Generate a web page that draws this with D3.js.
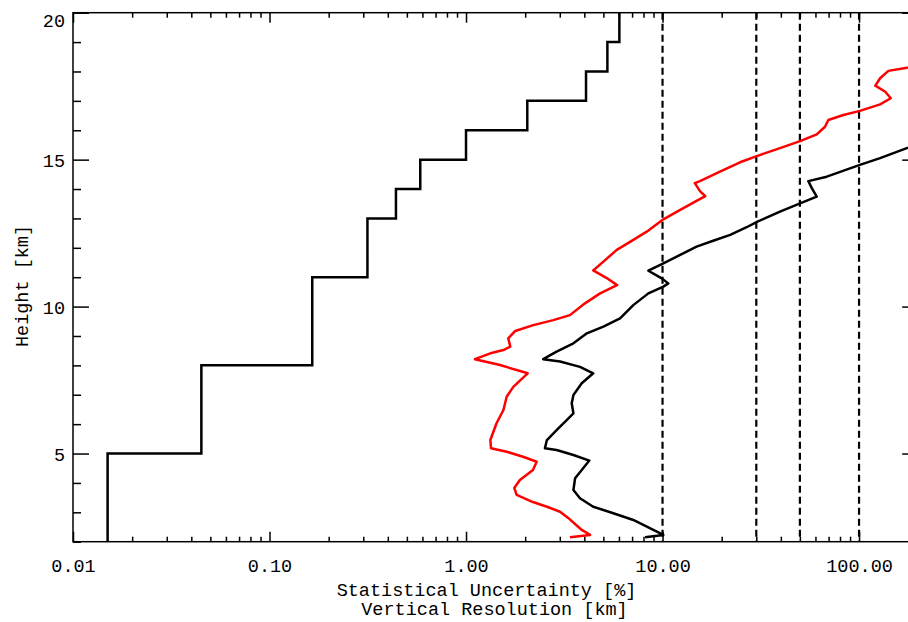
<!DOCTYPE html>
<html>
<head>
<meta charset="utf-8">
<script src="https://cdn.jsdelivr.net/npm/d3@7"></script>
<style>
  body { margin: 0; background: #fff; }
  svg { display: block; background: #fff; }
  text { font-family: "Liberation Mono", "DejaVu Sans Mono", monospace; font-size: 18.5px; fill: #000; }
</style>
</head>
<body>
<svg id="chart" width="908" height="622"></svg>
<script>
// vertical resolution (km) per layer, layers start at these heights
const layerBottoms = [2, 5, 8, 11, 13, 14, 15, 16, 17, 18, 19];
const layerTop = 20;
const resolution = [0.015, 0.045, 0.165, 0.315, 0.44, 0.585, 1.0, 2.05, 4.08, 5.24, 6.03];

// red profile (statistical uncertainty %, height km)
const redHeight = [2.15, 2.23, 2.40, 2.81, 3.02, 3.19, 3.35, 3.59, 3.83, 4.10, 4.44, 4.72, 4.89, 5.06, 5.18, 5.46,
  6.03, 6.48, 6.93, 7.27, 7.73, 8.01, 8.21, 8.41, 8.52, 8.64, 8.92, 9.17, 9.37, 9.54, 9.71, 10.11, 10.45, 10.73,
  10.97, 11.23, 11.53, 11.93, 12.27, 12.55, 12.97, 13.29, 13.60, 13.76, 13.93, 14.20, 14.27, 14.59, 14.91, 15.13,
  15.39, 15.63, 15.86, 16.12, 16.35, 16.52, 16.66, 16.88, 17.09, 17.31, 17.52, 17.77, 18.02, 18.13, 18.25];
const redValue = [3.38, 4.28, 3.88, 3.31, 3.01, 2.58, 2.19, 1.81, 1.76, 1.88, 2.19, 2.29, 1.95, 1.61, 1.34, 1.33,
  1.43, 1.55, 1.61, 1.74, 2.06, 1.49, 1.11, 1.33, 1.55, 1.68, 1.64, 1.78, 2.20, 2.78, 3.38, 4.03, 4.81, 5.87,
  5.20, 4.44, 5.00, 5.85, 7.10, 8.31, 10.1, 12.3, 14.9, 16.5, 15.5, 14.6, 15.5, 19.6, 24.8, 30.4,
  39.6, 50.1, 60.9, 67.1, 69.8, 83.2, 101, 128, 145, 136, 121, 128, 141, 175, 217];

// black profile (statistical uncertainty %, height km)
const blackHeight = [2.15, 2.23, 2.40, 2.74, 2.97, 3.19, 3.48, 3.76, 4.16, 4.44, 4.76, 4.95, 5.12, 5.18, 5.46, 5.80,
  6.20, 6.37, 6.71, 6.99, 7.39, 7.73, 7.95, 8.13, 8.21, 8.47, 8.75, 9.09, 9.32, 9.60, 10.05, 10.45, 10.68, 10.79,
  10.96, 11.22, 11.47, 11.76, 12.04, 12.24, 12.44, 12.70, 12.89, 13.23, 13.51, 13.74, 14.03, 14.27, 14.42, 14.82,
  15.05, 15.39, 15.60];
const blackValue = [8.15, 10.1, 8.98, 7.10, 5.62, 4.44, 3.80, 3.52, 3.59, 3.88, 4.24, 3.52, 2.89, 2.52, 2.58, 2.89,
  3.32, 3.52, 3.45, 3.52, 3.88, 4.44, 3.80, 3.01, 2.47, 2.89, 3.52, 4.12, 5.00, 6.08, 7.10, 8.47, 10.1, 10.7,
  9.91, 8.47, 10.1, 12.3, 14.9, 18.1, 22.1, 26.8, 30.4, 39.6, 50.1, 60.9, 57.5, 55.2, 68.5, 101,
  128, 175, 217];

const refLines = [10, 30, 50, 100];
const xTicks = [0.01, 0.1, 1, 10, 100];
const yTicks = [5, 10, 15, 20];
const xTitle = "Statistical Uncertainty [%]";
const xTitle2 = "Vertical Resolution [km]";
const yTitle = "Height [km]";

const svg = d3.select("#chart");
const mLeft = 73, mRight = 918.2, mTop = 12.7, mBottom = 541.7;

const x = d3.scaleLog().domain([0.01, 200]).range([mLeft, mRight]);
const y = d3.scaleLinear().domain([2, 20]).range([mBottom, mTop]);

const xMinor = [];
[0.01, 0.1, 1, 10, 100].forEach(d => {
  for (let k = 2; k <= 9; k++) if (d * k <= 200) xMinor.push(d * k);
});
const yMinor = d3.range(2, 21).filter(d => d % 5 !== 0);

svg.append("clipPath").attr("id", "plot")
  .append("rect").attr("x", mLeft).attr("y", mTop).attr("width", mRight - mLeft).attr("height", mBottom - mTop);

// axes
function styleAxis(g) {
  g.select(".domain").remove();
  g.selectAll("line").attr("stroke", "#000").attr("stroke-width", 1.5);
}
svg.append("g").attr("transform", `translate(0,${mBottom})`)
  .call(d3.axisBottom(x).tickValues(xTicks).tickSize(-10).tickFormat(d3.format(".2f")))
  .call(styleAxis)
  .call(g => g.selectAll("text").attr("y", 30).attr("dy", null)
    .style("font-family", "Liberation Mono").style("font-size", "18.5px").attr("fill", "#000"));
svg.append("g").attr("transform", `translate(0,${mBottom})`)
  .call(d3.axisBottom(x).tickValues(xMinor).tickSize(-5).tickFormat(""))
  .call(styleAxis);
svg.append("g").attr("transform", `translate(0,${mTop})`)
  .call(d3.axisTop(x).tickValues(xTicks).tickSize(-10).tickFormat(""))
  .call(styleAxis);
svg.append("g").attr("transform", `translate(0,${mTop})`)
  .call(d3.axisTop(x).tickValues(xMinor).tickSize(-5).tickFormat(""))
  .call(styleAxis);
svg.append("g").attr("transform", `translate(${mLeft},0)`)
  .call(d3.axisLeft(y).tickValues(yTicks).tickSize(-16).tickFormat(d3.format("d")))
  .call(styleAxis)
  .call(g => g.selectAll("text").attr("x", -8)
    .attr("dy", d => d === 20 ? "0.75em" : "0.35em")
    .style("font-family", "Liberation Mono").style("font-size", "18.5px").attr("fill", "#000"));
svg.append("g").attr("transform", `translate(${mLeft},0)`)
  .call(d3.axisLeft(y).tickValues(yMinor).tickSize(-8).tickFormat(""))
  .call(styleAxis);
svg.append("g").attr("transform", `translate(${mRight},0)`)
  .call(d3.axisRight(y).tickValues(yTicks).tickSize(-16).tickFormat(""))
  .call(styleAxis);
svg.append("g").attr("transform", `translate(${mRight},0)`)
  .call(d3.axisRight(y).tickValues(yMinor).tickSize(-8).tickFormat(""))
  .call(styleAxis);

svg.append("rect").attr("x", mLeft).attr("y", mTop).attr("width", mRight - mLeft).attr("height", mBottom - mTop)
  .attr("fill", "none").attr("stroke", "#000").attr("stroke-width", 1.5);

const plot = svg.append("g").attr("clip-path", "url(#plot)");

// dashed reference lines
plot.selectAll(".ref").data(refLines).enter().append("line")
  .attr("x1", d => x(d)).attr("x2", d => x(d))
  .attr("y1", mTop).attr("y2", mBottom)
  .attr("stroke", "#000").attr("stroke-width", 2.2).attr("stroke-dasharray", "7,4");

// step profile of vertical resolution
const steps = layerBottoms.map((h, i) => [resolution[i], h]);
steps.push([resolution[resolution.length - 1], layerTop]);
plot.append("path").datum(steps)
  .attr("d", d3.line().x(d => x(d[0])).y(d => y(d[1])).curve(d3.curveStepBefore))
  .attr("fill", "none").attr("stroke", "#000").attr("stroke-width", 2.5);

const profile = d3.line().x(d => x(d[0])).y(d => y(d[1]));
plot.append("path").datum(redValue.map((v, i) => [v, redHeight[i]]))
  .attr("d", profile).attr("fill", "none").attr("stroke", "#ff0000")
  .attr("stroke-width", 2.5).attr("stroke-linejoin", "round");
plot.append("path").datum(blackValue.map((v, i) => [v, blackHeight[i]]))
  .attr("d", profile).attr("fill", "none").attr("stroke", "#000")
  .attr("stroke-width", 2.5).attr("stroke-linejoin", "round");

// titles
svg.append("text").attr("x", 486.5).attr("y", 596).attr("text-anchor", "middle").text(xTitle);
svg.append("text").attr("x", 494.5).attr("y", 615).attr("text-anchor", "middle").text(xTitle2);
svg.append("text").attr("transform", "translate(28,286) rotate(-90)").attr("text-anchor", "middle").text(yTitle);
</script>
</body>
</html>
